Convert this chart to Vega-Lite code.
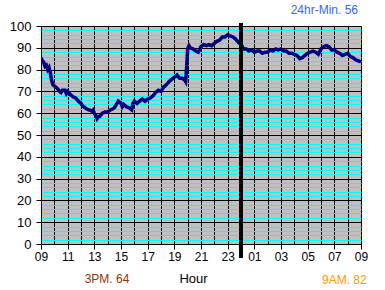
{
  "$schema": "https://vega.github.io/schema/vega-lite/v6.json",
  "width": 320,
  "height": 218,
  "autosize": {"type": "none"},
  "padding": {"left": 41, "top": 26, "right": 24, "bottom": 46},
  "background": "white",
  "config": {"font": "Liberation Sans", "view": {"fill": "#C0C0C0", "stroke": "#808080"}},
  "title": {"text": "24hr-Min. 56", "anchor": "end", "frame": "group", "color": "#3366FF", "fontSize": 12, "fontWeight": "normal", "fontStyle": "normal", "offset": 3, "dx": -3, "font": "Liberation Sans"},
  "resolve": {"axis": {"x": "independent", "y": "independent"}},
  "data": {"values": [
    {"h":0,"v":85.5},{"h":0.1,"v":84},{"h":0.2,"v":83.5},{"h":0.3,"v":81.5},{"h":0.4,"v":82},{"h":0.5,"v":80},{"h":0.6,"v":81},{"h":0.7,"v":78.5},{"h":0.8,"v":75},{"h":0.9,"v":73},
    {"h":1.0,"v":72.5},{"h":1.2,"v":71.5},{"h":1.4,"v":70},{"h":1.5,"v":69.5},{"h":1.6,"v":70.5},{"h":1.8,"v":70.5},{"h":1.9,"v":69},{"h":2.0,"v":70},{"h":2.2,"v":68.5},{"h":2.4,"v":67.5},
    {"h":2.6,"v":67},{"h":2.8,"v":65.5},{"h":3.0,"v":64.5},{"h":3.1,"v":63.5},{"h":3.2,"v":63},{"h":3.4,"v":62},{"h":3.6,"v":61.5},{"h":3.8,"v":61},{"h":3.9,"v":61.5},{"h":4.0,"v":60},
    {"h":4.1,"v":59},{"h":4.2,"v":57.5},{"h":4.3,"v":58.5},{"h":4.4,"v":58.5},{"h":4.6,"v":60},{"h":4.8,"v":60.5},{"h":5.0,"v":60.5},{"h":5.2,"v":61.5},{"h":5.4,"v":62},{"h":5.5,"v":62.5},
    {"h":5.6,"v":63.5},{"h":5.7,"v":64.5},{"h":5.8,"v":65.5},{"h":6.0,"v":64.5},{"h":6.1,"v":63},{"h":6.2,"v":64},{"h":6.4,"v":63},{"h":6.6,"v":62.5},{"h":6.8,"v":61.5},{"h":6.9,"v":64.5},
    {"h":7.0,"v":65.5},{"h":7.2,"v":64.5},{"h":7.4,"v":65.5},{"h":7.6,"v":66.5},{"h":7.8,"v":65.5},{"h":8.0,"v":66.5},{"h":8.2,"v":67},{"h":8.4,"v":68},{"h":8.6,"v":69.5},{"h":8.8,"v":70.5},
    {"h":9.0,"v":70},{"h":9.2,"v":72},{"h":9.4,"v":73},{"h":9.6,"v":74.5},{"h":9.8,"v":75.5},{"h":10.0,"v":76.5},{"h":10.2,"v":77.5},{"h":10.4,"v":76},{"h":10.6,"v":76},{"h":10.8,"v":75},
    {"h":10.85,"v":74.5},{"h":10.9,"v":79},{"h":10.95,"v":84},{"h":11.0,"v":89.5},{"h":11.1,"v":91},{"h":11.2,"v":90},{"h":11.4,"v":89.5},{"h":11.6,"v":88.5},{"h":11.8,"v":88},{"h":12.0,"v":90.5},
    {"h":12.2,"v":91.5},{"h":12.4,"v":91},{"h":12.6,"v":91.5},{"h":12.8,"v":91},{"h":13.0,"v":92},{"h":13.2,"v":93},{"h":13.4,"v":93.5},{"h":13.6,"v":95},{"h":13.8,"v":95},{"h":14.0,"v":96},
    {"h":14.2,"v":95.5},{"h":14.4,"v":95},{"h":14.6,"v":94},{"h":14.8,"v":92.5},{"h":15.0,"v":91.5},{"h":15.2,"v":89.5},{"h":15.4,"v":89.5},{"h":15.6,"v":88.5},{"h":15.8,"v":89},{"h":16.0,"v":88},
    {"h":16.2,"v":88.5},{"h":16.4,"v":88.5},{"h":16.6,"v":87.5},{"h":16.8,"v":88},{"h":17.0,"v":88},{"h":17.2,"v":89},{"h":17.4,"v":88.5},{"h":17.6,"v":89.5},{"h":17.8,"v":89},{"h":18.0,"v":89.5},
    {"h":18.2,"v":88.5},{"h":18.4,"v":88.5},{"h":18.6,"v":87.5},{"h":18.8,"v":87.5},{"h":19.0,"v":87},{"h":19.2,"v":86.5},{"h":19.4,"v":85},{"h":19.6,"v":85.5},{"h":19.8,"v":86.5},{"h":20.0,"v":87.5},
    {"h":20.2,"v":88},{"h":20.4,"v":88.5},{"h":20.6,"v":88},{"h":20.8,"v":87},{"h":21.0,"v":89.5},{"h":21.2,"v":90.5},{"h":21.4,"v":91},{"h":21.6,"v":90.5},{"h":21.8,"v":89},{"h":22.0,"v":89},
    {"h":22.2,"v":88},{"h":22.4,"v":87.5},{"h":22.6,"v":86.5},{"h":22.8,"v":87},{"h":23.0,"v":87.5},{"h":23.2,"v":86},{"h":23.4,"v":85.5},{"h":23.6,"v":84.5},{"h":23.8,"v":84},{"h":24.0,"v":83.5}
  ]},
  "layer": [
    {
      "mark": {"type": "line", "color": "#000080", "strokeWidth": 3.5, "clip": true},
      "encoding": {
        "x": {"field": "h", "type": "quantitative",
          "scale": {"domain": [0, 24], "nice": false, "zero": false},
          "axis": {
            "values": [0,1,2,3,4,5,6,7,8,9,10,11,12,13,14,15,16,17,18,19,20,21,22,23,24],
            "labelExpr": "datum.value % 2 == 0 ? ((((datum.value + 9) % 24) < 10 ? '0' : '') + ((datum.value + 9) % 24)) : ''",
            "grid": true, "gridColor": "black", "gridOpacity": 1, "gridWidth": 1,
            "tickColor": {"condition": {"test": "datum.value % 2 == 1", "value": "transparent"}, "value": "black"},
            "tickSize": 5, "domainColor": "black", "labelColor": "black", "labelFontSize": 12, "labelPadding": 2,
            "labelOverlap": false, "labelFlush": false,
            "title": "Hour", "titleFontSize": 13, "titleFontWeight": "normal", "titleColor": "black", "titlePadding": 10, "titleX": 152
          }},
        "y": {"field": "v", "type": "quantitative",
          "scale": {"domain": [0, 100], "nice": false},
          "axis": {
            "values": [0,2,4,6,8,10,12,14,16,18,20,22,24,26,28,30,32,34,36,38,40,42,44,46,48,50,52,54,56,58,60,62,64,66,68,70,72,74,76,78,80,82,84,86,88,90,92,94,96,98,100],
            "labelExpr": "datum.value % 10 == 0 ? '' + datum.value : ''",
            "grid": true, "gridOpacity": 1, "gridWidth": 1,
            "gridColor": {"condition": {"test": "datum.value % 10 == 0", "value": "black"}, "value": "#00FFFF"},
            "tickColor": {"condition": {"test": "datum.value % 10 == 0", "value": "black"}, "value": "transparent"},
            "tickSize": 5, "domainColor": "black", "labelColor": "black", "labelFontSize": 13, "labelPadding": 5,
            "labelOverlap": false, "labelFlush": false, "title": null
          }}
      }
    },
    {
      "mark": {"type": "rule", "color": "black", "strokeWidth": 2.5},
      "encoding": {"x": {"datum": 15, "axis": null}, "y": {"datum": -6.4, "axis": null}, "y2": {"datum": 101}}
    },
    {
      "data": {"values": [{"note": "3PM. 64"}]},
      "mark": {"type": "text", "color": "#993300", "fontSize": 12, "dy": 35},
      "encoding": {"x": {"datum": 4.95, "axis": null}, "y": {"datum": 0, "axis": null}, "text": {"field": "note"}}
    },
    {
      "data": {"values": [{"note": "9AM. 82"}]},
      "mark": {"type": "text", "color": "#FF9900", "fontSize": 12, "dy": 36},
      "encoding": {"x": {"datum": 22.75, "axis": null}, "y": {"datum": 0, "axis": null}, "text": {"field": "note"}}
    }
  ]
}
